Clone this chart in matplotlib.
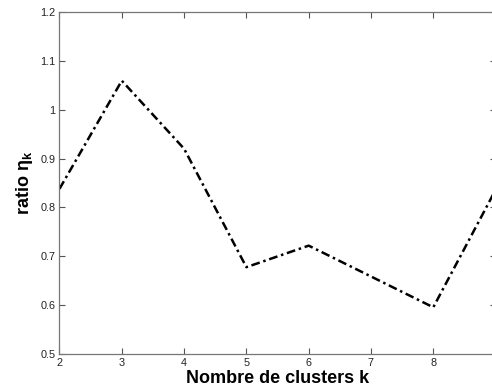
import numpy as np
import matplotlib
matplotlib.use('Agg')
import matplotlib.pyplot as plt

plt.rcParams['font.family'] = ['Liberation Sans', 'DejaVu Sans']
plt.rcParams['mathtext.fontset'] = 'custom'
plt.rcParams['mathtext.rm'] = 'Liberation Sans'
plt.rcParams['mathtext.it'] = 'Liberation Sans'
plt.rcParams['mathtext.bf'] = 'Liberation Sans:bold'

k = [2, 3, 4, 5, 6, 7, 8, 9]
ratio = [0.838, 1.059, 0.92, 0.678, 0.722, 0.659, 0.596, 0.836]
xticks = [2, 3, 4, 5, 6, 7, 8]
yticks = [0.5, 0.6, 0.7, 0.8, 0.9, 1.0, 1.1, 1.2]
ytick_labels = ['0.5', '0.6', '0.7', '0.8', '0.9', '1', '1.1', '1.2']

fig = plt.figure(figsize=(4.92, 3.92), dpi=100)
ax = fig.add_axes([0.1209, 0.0962, 0.8864, 0.874])

ax.plot(k, ratio, color='black', lw=1.8, linestyle=(0, (3.5, 1.5, 1, 1.5)))

ax.set_xlim(2, 9)
ax.set_ylim(0.5, 1.2)
ax.set_xticks(xticks)
ax.set_yticks(yticks)
ax.set_yticklabels(ytick_labels)
ax.tick_params(direction='in', length=4, width=0.8, color='#555555',
               labelsize=7.8, labelcolor='#222222', top=True, right=True, pad=3)
for s in ax.spines.values():
    s.set_color('#777777')
    s.set_linewidth(0.9)

ax.set_xlabel('Nombre de clusters k', fontsize=13, fontweight='bold', labelpad=1)
ax.set_ylabel(r'ratio $\mathbf{\eta_k}$', fontsize=13, fontweight='bold', labelpad=4)

fig.savefig('out.png', dpi=100)
